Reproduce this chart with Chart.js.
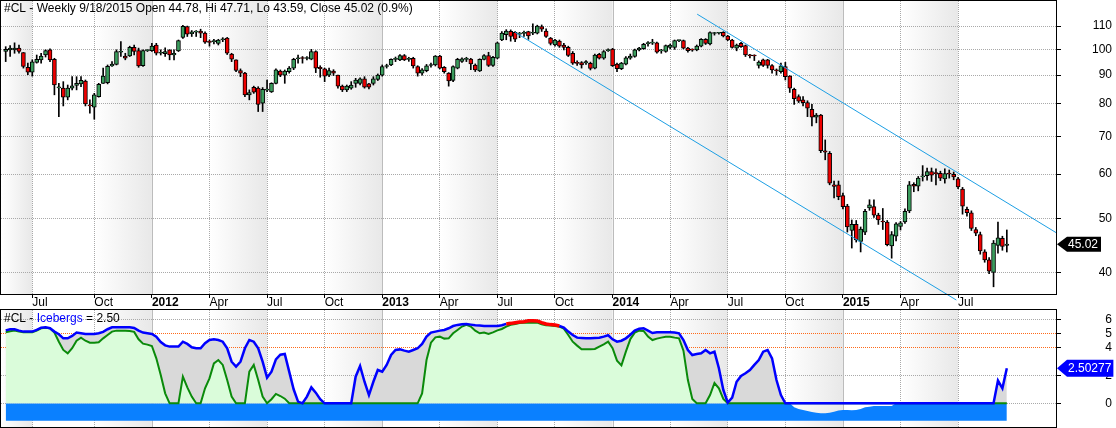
<!DOCTYPE html>
<html>
<head>
<meta charset="utf-8">
<script src="https://cdn.jsdelivr.net/npm/chart.js@4.4.1/dist/chart.umd.min.js"></script>
<style>
html, body { margin: 0; padding: 0; background: #fff; }
#wrap { position: relative; width: 1116px; height: 428px; overflow: hidden; }
#price { position: absolute; left: 0; top: 0; }
#ind { position: absolute; left: 0; top: 309px; }
</style>
</head>
<body>
<div id="wrap">
<canvas id="price" width="1116" height="310"></canvas>
<canvas id="ind" width="1116" height="119"></canvas>
</div>
<script>
// weekly bars, 2011-05-20 .. 2015-09-18
const opens = [
  99.1, 99.8, 99.8, 100.5, 98.7, 92.9, 91.1, 94.8, 95.8, 97.7,
  99.8, 96.0, 85.4, 85.3, 82.2, 85.3, 86.3, 86.8, 87.8, 79.5,
  78.9, 82.4, 87.0, 87.2, 93.4, 94.0, 98.8, 97.3, 97.3, 100.8,
  99.5, 93.5, 99.5, 99.5, 101.8, 98.4, 98.2, 99.8, 97.7, 99.4,
  105.0, 109.8, 106.6, 107.3, 107.8, 106.9, 103.0, 103.2, 102.5, 104.0,
  104.7, 98.1, 95.8, 91.7, 90.7, 83.0, 85.6, 85.3, 80.2, 84.6,
  84.0, 87.0, 91.5, 90.0, 91.3, 92.6, 96.2, 96.4, 96.3, 96.1,
  99.1, 92.9, 92.3, 90.0, 91.5, 90.0, 86.0, 84.7, 85.3, 87.0,
  87.0, 88.6, 86.8, 87.0, 88.4, 90.0, 93.2, 93.8, 96.0, 95.8,
  97.5, 96.0, 96.4, 93.2, 90.7, 91.6, 93.6, 93.8, 97.3, 92.9,
  90.7, 88.0, 92.6, 95.2, 96.0, 96.1, 93.8, 91.5, 96.0, 97.5,
  93.6, 96.4, 103.9, 106.2, 107.7, 107.2, 106.4, 106.7, 107.5, 106.8,
  106.9, 109.8, 107.8, 104.7, 101.8, 103.4, 101.8, 100.8, 98.4, 94.5,
  94.7, 94.6, 94.4, 92.6, 98.0, 96.4, 99.5, 100.1, 94.1, 92.4,
  94.1, 96.4, 97.1, 99.8, 100.3, 102.4, 102.6, 102.7, 99.4, 99.1,
  100.8, 100.8, 103.6, 103.6, 100.5, 99.8, 99.8, 101.3, 104.2, 102.2,
  106.7, 106.8, 107.2, 105.6, 103.9, 100.5, 102.5, 101.6, 97.5, 97.4,
  93.6, 95.8, 95.8, 93.6, 91.8, 91.3, 93.2, 89.6, 84.9, 82.4,
  81.3, 80.4, 78.2, 75.7, 76.4, 66.0, 65.3, 57.4, 57.4, 54.9,
  52.6, 47.6, 48.8, 45.5, 47.3, 52.2, 52.5, 50.7, 49.4, 49.3,
  44.7, 46.5, 48.4, 49.3, 51.6, 57.5, 57.1, 59.3, 59.6, 60.6,
  60.2, 60.2, 58.8, 60.2, 59.9, 58.8, 56.4, 51.9, 51.2, 47.8,
  46.8, 43.6, 42.2, 40.1, 44.8, 46.1, 44.78
];
const highs = [
  101.1, 101.5, 102.7, 101.8, 98.7, 94.5, 95.8, 97.7, 98.4, 99.8,
  100.2, 96.4, 87.0, 87.6, 86.4, 89.4, 89.4, 89.4, 88.2, 81.3,
  83.5, 87.0, 92.6, 93.8, 95.1, 99.8, 103.2, 98.4, 101.3, 101.8,
  100.5, 99.8, 99.8, 102.5, 102.5, 99.8, 100.6, 99.8, 99.8, 103.9,
  110.3, 110.0, 108.0, 108.0, 108.6, 107.4, 103.9, 104.2, 104.2, 104.9,
  105.0, 98.4, 95.8, 92.3, 91.0, 84.7, 86.0, 85.8, 85.5, 88.2,
  87.2, 92.3, 91.9, 91.9, 93.2, 96.4, 97.7, 97.1, 97.1, 100.0,
  99.4, 93.5, 92.6, 92.6, 92.0, 90.0, 86.4, 86.4, 87.6, 88.8,
  89.0, 89.4, 87.0, 89.4, 90.4, 93.8, 94.1, 96.2, 96.9, 97.9,
  97.9, 96.8, 96.8, 93.5, 92.4, 94.0, 94.5, 97.5, 97.6, 93.2,
  90.9, 93.5, 96.4, 96.6, 96.8, 96.4, 94.2, 96.2, 97.9, 98.8,
  97.2, 103.0, 107.6, 108.4, 108.3, 107.6, 107.2, 107.8, 107.7, 111.0,
  110.4, 110.5, 108.8, 105.0, 104.2, 103.9, 102.5, 101.3, 99.1, 95.4,
  95.1, 95.5, 94.9, 98.1, 98.4, 99.5, 100.2, 100.4, 94.5, 94.8,
  97.1, 98.1, 100.1, 100.8, 102.5, 103.2, 104.2, 103.0, 100.0, 101.8,
  102.2, 103.9, 103.9, 103.9, 100.8, 100.2, 101.8, 104.5, 104.5, 107.4,
  107.2, 107.2, 107.5, 105.9, 104.2, 102.2, 102.9, 101.8, 98.0, 97.8,
  95.4, 96.1, 96.0, 93.9, 92.3, 94.5, 94.8, 89.8, 85.3, 83.0,
  82.4, 81.0, 79.8, 76.9, 76.6, 69.0, 65.8, 58.3, 58.3, 55.5,
  53.0, 49.7, 49.6, 48.3, 51.9, 54.0, 54.0, 51.1, 52.1, 49.6,
  47.4, 49.2, 49.4, 52.0, 58.2, 57.9, 59.4, 62.1, 61.5, 61.5,
  61.3, 60.7, 61.3, 61.0, 60.5, 59.2, 56.8, 52.4, 51.6, 48.2,
  47.3, 44.0, 42.6, 45.7, 49.3, 46.5, 47.71
];
const lows = [
  95.1, 97.1, 98.4, 98.4, 92.6, 90.1, 89.6, 94.5, 94.5, 96.9,
  95.1, 83.0, 75.9, 79.3, 81.3, 84.7, 84.7, 85.8, 79.3, 77.0,
  75.1, 82.2, 87.0, 86.8, 93.2, 93.8, 97.1, 95.8, 97.1, 97.7,
  92.9, 93.2, 99.1, 99.1, 97.7, 97.7, 97.1, 95.8, 95.8, 99.1,
  104.6, 105.4, 105.4, 105.4, 104.9, 102.5, 101.3, 102.2, 101.8, 103.2,
  97.9, 95.1, 91.3, 89.4, 82.4, 81.3, 83.5, 77.5, 77.5, 84.1,
  83.8, 86.8, 89.4, 87.0, 90.7, 92.0, 94.5, 94.5, 95.8, 95.8,
  90.9, 89.2, 87.6, 89.4, 89.8, 85.3, 84.1, 84.1, 84.9, 85.6,
  86.4, 85.3, 85.0, 86.4, 88.0, 89.6, 92.6, 93.5, 95.1, 95.5,
  95.5, 95.2, 92.6, 89.6, 90.0, 91.2, 93.0, 93.4, 92.3, 90.7,
  86.0, 87.6, 92.3, 94.8, 95.1, 92.0, 91.3, 91.3, 95.8, 93.2,
  93.2, 96.2, 103.6, 104.0, 103.4, 103.2, 104.9, 105.4, 104.2, 106.2,
  106.5, 107.6, 105.0, 101.8, 101.3, 100.8, 99.8, 97.1, 94.0, 93.6,
  92.6, 94.0, 91.9, 92.3, 96.1, 96.0, 99.1, 93.2, 91.3, 92.0,
  93.8, 96.0, 96.8, 99.4, 100.0, 101.3, 102.0, 98.4, 98.4, 98.8,
  100.3, 100.0, 103.2, 100.2, 98.8, 99.2, 99.4, 101.0, 102.0, 101.8,
  106.0, 106.4, 105.2, 103.6, 100.5, 99.4, 100.8, 97.1, 96.5, 95.5,
  92.6, 93.2, 92.6, 90.7, 90.0, 90.7, 88.2, 83.8, 79.8, 80.4,
  79.3, 75.9, 73.1, 74.0, 65.5, 63.6, 57.4, 54.4, 54.0, 52.0,
  47.3, 44.3, 45.4, 43.6, 46.8, 51.7, 50.2, 48.8, 47.8, 44.7,
  42.5, 45.6, 47.7, 49.0, 51.2, 55.8, 56.0, 58.3, 58.5, 58.2,
  57.4, 58.4, 57.8, 59.0, 58.6, 56.5, 50.9, 50.5, 47.6, 46.6,
  43.2, 41.8, 39.9, 37.8, 43.4, 43.9, 43.59
];
const closes = [
  100.0, 100.5, 100.5, 99.1, 93.2, 91.1, 95.0, 96.0, 97.3, 99.5,
  95.8, 86.4, 85.5, 82.2, 85.3, 86.1, 87.0, 88.1, 80.0, 79.3,
  83.0, 86.6, 89.6, 93.3, 94.1, 99.1, 99.0, 96.4, 100.8, 99.1,
  93.4, 99.5, 99.6, 101.3, 98.4, 98.8, 99.1, 97.7, 98.4, 103.6,
  109.9, 106.4, 107.4, 107.4, 106.9, 103.0, 102.9, 103.4, 103.9, 104.1,
  98.4, 96.1, 91.7, 90.7, 83.0, 83.8, 83.9, 79.8, 84.9, 84.7,
  87.0, 91.9, 90.0, 91.5, 92.6, 96.0, 96.4, 96.3, 96.5, 99.1,
  92.6, 92.4, 89.6, 91.7, 90.7, 86.0, 84.7, 86.0, 86.4, 88.2,
  88.6, 85.6, 85.6, 88.6, 90.0, 93.2, 93.3, 96.0, 96.1, 97.5,
  95.8, 96.1, 93.4, 90.7, 91.9, 93.5, 93.7, 97.3, 92.6, 91.3,
  87.9, 93.2, 96.0, 96.2, 96.1, 94.2, 91.9, 96.0, 97.5, 93.6,
  96.8, 102.7, 106.9, 107.8, 105.4, 104.2, 106.6, 107.2, 105.6, 106.9,
  110.0, 108.6, 105.4, 102.5, 103.9, 101.3, 100.8, 97.5, 94.5, 94.4,
  93.8, 95.1, 92.5, 97.7, 96.4, 99.1, 99.8, 93.5, 92.4, 94.5,
  96.6, 97.3, 99.8, 100.5, 102.1, 102.5, 102.7, 98.8, 99.5, 101.6,
  101.8, 103.6, 103.7, 100.5, 99.5, 99.7, 101.3, 104.2, 102.5, 107.1,
  106.8, 106.9, 105.6, 103.9, 100.8, 101.8, 101.1, 97.7, 97.4, 97.3,
  94.9, 93.6, 93.6, 91.9, 91.6, 93.5, 89.4, 85.3, 81.7, 80.9,
  80.4, 78.6, 75.7, 76.4, 66.0, 65.6, 57.8, 57.0, 54.7, 52.5,
  48.3, 48.8, 45.8, 47.9, 51.5, 52.9, 50.7, 49.7, 49.3, 44.9,
  46.8, 48.9, 49.1, 51.5, 57.4, 57.1, 59.0, 59.4, 60.6, 59.7,
  60.1, 59.0, 60.1, 60.0, 59.3, 56.9, 52.6, 51.2, 48.0, 47.1,
  43.8, 42.2, 40.3, 45.2, 46.2, 44.62, 45.02
];

// Icebergs indicator (blue) and its slow line (green)
const icebergs = [
  5.21, 5.29, 5.29, 5.19, 5.12, 5.12, 5.12, 5.24, 5.40, 5.43,
  5.36, 5.12, 4.93, 4.64, 4.64, 4.81, 5.05, 5.00, 4.95, 4.95,
  4.95, 5.00, 5.10, 5.29, 5.43, 5.43, 5.43, 5.43, 5.43, 5.38,
  5.19, 5.05, 5.00, 4.95, 4.76, 4.38, 4.14, 4.05, 4.05, 4.05,
  4.40, 4.24, 4.00, 3.93, 3.93, 4.29, 4.52, 4.57, 4.52, 4.40,
  3.93, 2.97, 2.62, 2.97, 3.93, 4.52, 4.40, 3.93, 2.97, 1.83,
  2.26, 3.14, 3.47, 3.52, 2.26, 1.00, 0.12, 0, 0.48, 1.14,
  0.76, 0.29, 0, 0, 0, 0, 0, 0, 0, 1.90,
  2.66, 1.54, 0.59, 1.54, 2.38, 2.26, 2.74, 3.45, 3.81, 3.85,
  3.76, 3.69, 3.81, 3.93, 4.24, 4.76, 5.05, 5.12, 5.19, 5.24,
  5.36, 5.52, 5.60, 5.64, 5.66, 5.62, 5.58, 5.55, 5.52, 5.52,
  5.52, 5.52, 5.57, 5.67, 5.71, 5.76, 5.81, 5.83, 5.90, 5.90,
  5.88, 5.76, 5.67, 5.62, 5.60, 5.52, 5.40, 5.12, 4.88, 4.69,
  4.67, 4.64, 4.64, 4.67, 4.69, 4.76, 4.86, 4.57, 4.40, 4.47,
  4.64, 4.90, 5.19, 5.33, 5.36, 5.19, 5.02, 5.07, 5.07, 5.07,
  5.07, 5.05, 5.00, 4.52, 3.81, 3.45, 3.52, 3.57, 3.81, 3.57,
  3.69, 2.50, 0.95, 0.05, 0.40, 1.54, 1.95, 2.14, 2.38, 2.74,
  3.09, 3.69, 3.81, 3.21, 1.66, 0.59, 0, 0, 0, 0,
  0, 0, 0, 0, 0, 0, 0, 0, 0, 0,
  0, 0, 0, 0, 0, 0, 0, 0, 0, 0,
  0, 0, 0, 0, 0, 0, 0, 0, 0, 0,
  0, 0, 0, 0, 0, 0, 0, 0, 0, 0,
  0, 0, 0, 0, 1.62, 1.07, 2.50277
];
const icebergsSlow = [
  5.07, 5.14, 5.19, 5.12, 5.07, 5.07, 5.07, 5.19, 5.36, 5.40,
  5.36, 5.05, 4.40, 3.81, 3.57, 3.93, 4.47, 4.69, 4.47, 4.33,
  4.33, 4.36, 4.64, 4.88, 5.12, 5.19, 5.19, 5.19, 5.17, 5.10,
  4.57, 4.26, 4.19, 4.09, 3.21, 2.02, 0.71, 0, 0, 0,
  1.90, 1.14, 0.48, 0, 0, 1.07, 1.78, 2.85, 3.09, 2.74,
  1.66, 0.48, 0, 0, 0, 2.26, 2.74, 1.66, 0.48, 0,
  0.29, 0.67, 0.52, 0.33, 0, 0, 0, 0, 0, 0,
  0, 0, 0, 0, 0, 0, 0, 0, 0, 0,
  0, 0, 0, 0, 0, 0, 0, 0, 0, 0,
  0, 0, 0, 0, 0.71, 3.09, 4.33, 4.71, 4.76, 4.62,
  4.64, 5.00, 5.24, 5.48, 5.60, 5.48, 5.19, 5.00, 5.05, 4.95,
  5.07, 5.21, 5.31, 5.48, 5.60, 5.67, 5.74, 5.76, 5.76, 5.76,
  5.76, 5.64, 5.57, 5.55, 5.52, 5.48, 5.33, 4.88, 4.40, 4.12,
  3.86, 3.86, 3.86, 3.88, 4.05, 4.21, 4.40, 3.93, 3.05, 2.71,
  3.69, 4.57, 5.05, 5.19, 5.17, 4.76, 4.52, 4.62, 4.69, 4.76,
  4.76, 4.69, 4.64, 3.76, 1.66, 0.31, 0, 0, 0, 0.59,
  1.45, 1.07, 0.31, 0, 0, 0, 0, 0, 0, 0,
  0, 0, 0, 0, 0, 0, 0, 0, 0, 0,
  0, 0, 0, 0, 0, 0, 0, 0, 0, 0,
  0, 0, 0, 0, 0, 0, 0, 0, 0, 0,
  0, 0, 0, 0, 0, 0, 0, 0, 0, 0,
  0, 0, 0, 0, 0, 0, 0, 0, 0, 0,
  0, 0, 0, 0, 0, 0, 0
];
// top edge of the blue base band (dips below zero late 2014 / early 2015)
const baseBand = [
  0, 0, 0, 0, 0, 0, 0, 0, 0, 0,
  0, 0, 0, 0, 0, 0, 0, 0, 0, 0,
  0, 0, 0, 0, 0, 0, 0, 0, 0, 0,
  0, 0, 0, 0, 0, 0, 0, 0, 0, 0,
  0, 0, 0, 0, 0, 0, 0, 0, 0, 0,
  0, 0, 0, 0, 0, 0, 0, 0, 0, 0,
  0, 0, 0, 0, 0, 0, 0, 0, 0, 0,
  0, 0, 0, 0, 0, 0, 0, 0, 0, 0,
  0, 0, 0, 0, 0, 0, 0, 0, 0, 0,
  0, 0, 0, 0, 0, 0, 0, 0, 0, 0,
  0, 0, 0, 0, 0, 0, 0, 0, 0, 0,
  0, 0, 0, 0, 0, 0, 0, 0, 0, 0,
  0, 0, 0, 0, 0, 0, 0, 0, 0, 0,
  0, 0, 0, 0, 0, 0, 0, 0, 0, 0,
  0, 0, 0, 0, 0, 0, 0, 0, 0, 0,
  0, 0, 0, 0, 0, 0, 0, 0, 0, 0,
  0, 0, 0, 0, 0, 0, 0, 0, 0, 0,
  0, 0, 0, 0, 0, 0, 0, 0, -0.29, -0.40,
  -0.48, -0.55, -0.62, -0.67, -0.71, -0.71, -0.67, -0.60, -0.52, -0.48,
  -0.48, -0.50, -0.48, -0.40, -0.29, -0.24, -0.19, -0.19, -0.19, -0.19,
  -0.19, 0, 0, 0, 0, 0, 0, 0, 0, 0,
  0, 0, 0, 0, 0, 0, 0, 0, 0, 0,
  0, 0, 0, 0, 0, 0, 0
];
const bandFloor = -1.24;
const redSpan = [113, 125];

// first weekly bar of each quarter, and its label
const quarterIdx = [6, 20, 33, 46, 59, 72, 85, 98, 111, 124, 137, 150, 163, 176, 189, 202, 215];
const quarterLabels = ['Jul', 'Oct', '2012', 'Apr', 'Jul', 'Oct', '2013', 'Apr', 'Jul', 'Oct', '2014', 'Apr', 'Jul', 'Oct', '2015', 'Apr', 'Jul'];
const shadeBands = [[-7, 6], [20, 33], [46, 59], [72, 85], [98, 111], [124, 137], [150, 163], [176, 189], [202, 215]];
const priceTicks = [40, 50, 60, 70, 80, 90, 100, 110];
const indTicks = [0, 2, 4, 5, 6];

// channel lines (bar index, price)
const channelUpper = [{x: 156.1, y: 115.5}, {x: 237.1, y: 47.2}];
const channelLower = [{x: 115.0, y: 107.2}, {x: 214.6, y: 35.8}];

const FONT = '"Liberation Sans", Arial, sans-serif';
const UP = '#3a9d5d', DOWN = '#ee0000';
const xMin = -1.06, xMax = 237.1;
const weeks = closes.map((_, i) => i);
const isYear = k => quarterLabels[k] && quarterLabels[k].length === 4;

const decor = {
  id: 'decor',
  beforeDraw(chart) {
    const {ctx, chartArea: a} = chart;
    const x = chart.scales.x;
    ctx.save();
    ctx.fillStyle = '#fff';
    ctx.fillRect(0, 0, chart.width, chart.height);
    shadeBands.forEach(([s, e]) => {
      const l = Math.max(a.left, x.getPixelForValue(s));
      const r = Math.min(a.right, x.getPixelForValue(e));
      if (r <= l) return;
      const g = ctx.createLinearGradient(l, 0, r, 0);
      g.addColorStop(0, '#ffffff');
      g.addColorStop(1, '#e8e8e8');
      ctx.fillStyle = g;
      ctx.fillRect(l, a.top, r - l, a.bottom - a.top);
    });
    ctx.restore();
  },
  beforeDatasetsDraw(chart) {
    const {ctx, chartArea: a} = chart;
    const x = chart.scales.x;
    ctx.save();
    ctx.strokeStyle = '#bcbcbc';
    ctx.lineWidth = 1;
    quarterIdx.forEach((v, k) => {
      if (!isYear(k)) return;
      const px = Math.round(x.getPixelForValue(v)) + 0.5;
      ctx.beginPath();
      ctx.moveTo(px, a.top);
      ctx.lineTo(px, a.bottom);
      ctx.stroke();
    });
    ctx.restore();
  },
  afterDraw(chart) {
    const {ctx, chartArea: a} = chart;
    ctx.save();
    ctx.strokeStyle = '#000';
    ctx.lineWidth = 1;
    ctx.strokeRect(a.left - 0.5, a.top - 0.5, a.right - a.left + 1, a.bottom - a.top + 1);
    ctx.restore();
  }
};

function valueTag(ctx, x0, y, text, fill, h, rightPad) {
  ctx.save();
  ctx.font = '12px ' + FONT;
  const w = ctx.measureText(text).width;
  const r = x0 + 11 + w + rightPad;
  ctx.fillStyle = fill;
  ctx.beginPath();
  ctx.moveTo(x0, y);
  ctx.lineTo(x0 + 10, y - h / 2);
  ctx.lineTo(r, y - h / 2);
  ctx.lineTo(r, y + h / 2);
  ctx.lineTo(x0 + 10, y + h / 2);
  ctx.closePath();
  ctx.fill();
  ctx.fillStyle = '#fff';
  ctx.textBaseline = 'middle';
  ctx.fillText(text, x0 + 11, y + 0.5);
  ctx.restore();
}

function noPad(s) {
  s.paddingTop = 0; s.paddingBottom = 0; s.paddingLeft = 0; s.paddingRight = 0;
}

function xScale(showLabels) {
  return {
    type: 'linear', min: xMin, max: xMax, offset: false,
    afterBuildTicks: s => { s.ticks = quarterIdx.map(v => ({value: v})); },
    afterFit: s => { s.height = showLabels ? 16 : 0; noPad(s); },
    ticks: {
      display: showLabels, autoSkip: false, maxRotation: 0, minRotation: 0,
      align: 'start', padding: -3, color: '#000',
      font: c => ({family: FONT, size: 12, weight: isYear(c.index) ? 'bold' : 'normal'}),
      callback: (v, k) => quarterLabels[k]
    },
    grid: {
      offset: false,
      color: c => isYear(c.index) ? 'rgba(0,0,0,0)' : '#a9a9a9',
      tickColor: '#000', tickLength: 4, drawTicks: showLabels
    },
    border: {display: false, dash: [1, 1]}
  };
}

// ---------- price panel ----------
new Chart(document.getElementById('price'), {
  type: 'bar',
  data: {
    datasets: [
      {type: 'line', data: channelUpper, borderColor: '#1c9fe4', borderWidth: 1, pointRadius: 0},
      {type: 'line', data: channelLower, borderColor: '#1c9fe4', borderWidth: 1, pointRadius: 0, clip: false},
      {
        data: weeks.map(i => ({x: i, y: [opens[i], closes[i]]})),
        backgroundColor: c => closes[c.dataIndex] >= opens[c.dataIndex] ? UP : DOWN,
        borderColor: '#000', borderWidth: 1, borderSkipped: false,
        barThickness: 4, grouped: false, minBarLength: 1
      },
      {
        data: weeks.map(i => ({x: i, y: [lows[i], highs[i]]})),
        backgroundColor: '#000', borderWidth: 0, barThickness: 1, grouped: false
      }
    ]
  },
  options: {
    responsive: false, animation: false, devicePixelRatio: 1,
    layout: {padding: {left: 1, top: 1, right: 4, bottom: 0}},
    plugins: {legend: {display: false}, tooltip: {enabled: false}},
    scales: {
      x: xScale(true),
      y: {
        type: 'logarithmic', position: 'right', min: 36.7, max: 121.9,
        afterBuildTicks: s => { s.ticks = priceTicks.map(v => ({value: v})); },
        afterFit: s => { s.width = 56; noPad(s); },
        ticks: {crossAlign: 'far', padding: 31, color: '#000', font: {family: FONT, size: 12}, callback: v => String(v)},
        grid: {color: '#a9a9a9', tickColor: '#000', tickLength: 5},
        border: {display: false, dash: [1, 1]}
      }
    }
  },
  plugins: [decor, {
    id: 'priceText',
    afterDraw(chart) {
      const {ctx} = chart;
      ctx.save();
      ctx.font = '12px ' + FONT;
      ctx.fillStyle = '#000';
      ctx.fillText('#CL - Weekly 9/18/2015 Open 44.78, Hi 47.71, Lo 43.59, Close 45.02 (0.9%)', 4, 12);
      ctx.restore();
      const last = closes[closes.length - 1];
      valueTag(ctx, 1057, chart.scales.y.getPixelForValue(last), last.toFixed(2), '#000', 15, 3);
    }
  }]
});

// ---------- Icebergs panel ----------
new Chart(document.getElementById('ind'), {
  type: 'line',
  data: {
    datasets: [
      {
        data: weeks.map(i => ({x: i, y: icebergs[i]})),
        borderColor: '#0000ff', borderWidth: 2.5, pointRadius: 0, fill: false, tension: 0,
        segment: {
          borderColor: c => (c.p0DataIndex >= redSpan[0] && c.p1DataIndex <= redSpan[1]) ? '#ff0000' : undefined,
          borderWidth: c => (c.p0DataIndex >= redSpan[0] && c.p1DataIndex <= redSpan[1]) ? 3.5 : undefined
        }
      },
      {
        data: weeks.map(i => ({x: i, y: icebergsSlow[i]})),
        borderColor: '#0a8a0a', borderWidth: 2, pointRadius: 0, tension: 0,
        fill: 'origin', backgroundColor: '#dafcda'
      },
      {
        data: weeks.map(i => ({x: i, y: icebergs[i]})),
        borderWidth: 0, pointRadius: 0, tension: 0,
        fill: 'origin', backgroundColor: '#d9d9d9'
      },
      {
        data: weeks.map(i => ({x: i, y: baseBand[i]})),
        borderWidth: 0, pointRadius: 0, tension: 0,
        fill: {value: bandFloor}, backgroundColor: '#0a80ff'
      }
    ]
  },
  options: {
    responsive: false, animation: false, devicePixelRatio: 1,
    layout: {padding: {left: 1, top: 1, right: 4, bottom: 1}},
    plugins: {legend: {display: false}, tooltip: {enabled: false}},
    scales: {
      x: xScale(false),
      y: {
        type: 'linear', position: 'right', min: -1.693, max: 6.664,
        afterBuildTicks: s => { s.ticks = indTicks.map(v => ({value: v})); },
        afterFit: s => { s.width = 56; noPad(s); },
        ticks: {crossAlign: 'far', padding: 44, color: '#000', font: {family: FONT, size: 12}, callback: v => String(v)},
        grid: {color: c => (c.tick && (c.tick.value === 4 || c.tick.value === 5)) ? '#ff6a1a' : '#a9a9a9', tickColor: '#000', tickLength: 5},
        border: {display: false, dash: [1, 1]}
      }
    }
  },
  plugins: [decor, {
    id: 'indText',
    afterDraw(chart) {
      const {ctx} = chart;
      ctx.save();
      ctx.font = '12px ' + FONT;
      let x = 4;
      const parts = [['#CL - ', '#000'], ['Icebergs', '#0000ff'], [' = 2.50', '#000']];
      parts.forEach(([t, col]) => {
        ctx.fillStyle = col;
        ctx.fillText(t, x, 13);
        x += ctx.measureText(t).width;
      });
      ctx.restore();
      const last = icebergs[icebergs.length - 1];
      valueTag(ctx, 1057, chart.scales.y.getPixelForValue(last), String(last), '#0000ff', 17, 2);
    }
  }]
});
</script>
</body>
</html>
